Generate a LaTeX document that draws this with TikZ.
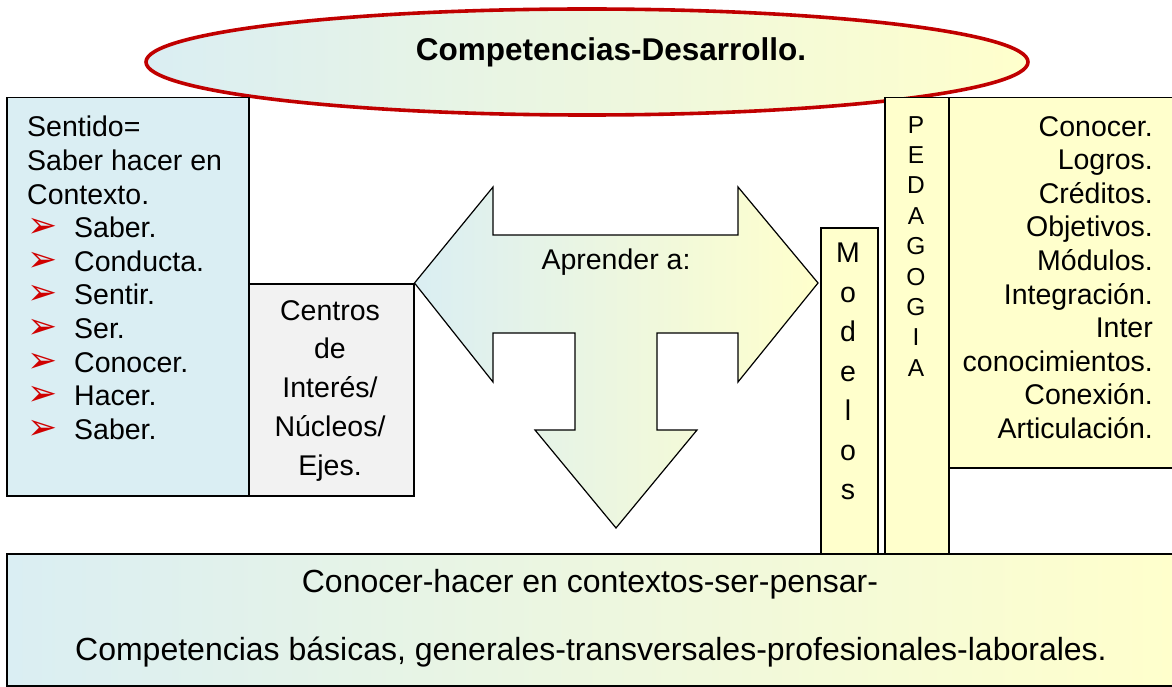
\documentclass[tikz,border=0pt]{standalone}
\usepackage{fontspec}
\setmainfont{Liberation Sans}
\newfontfamily\symfont{DejaVu Sans}
\usepackage{xcolor}
\definecolor{bluesoft}{HTML}{DAEEF3}
\definecolor{yellowsoft}{HTML}{FFFFCC}
\definecolor{greysoft}{HTML}{F2F2F2}
\definecolor{rimred}{HTML}{C00000}
\definecolor{bulletred}{HTML}{D00000}
\usetikzlibrary{shapes.geometric,positioning,calc}
\newcommand{\bul}{\makebox[47pt][l]{\textcolor{bulletred}{\symfont\fontsize{36}{33.6}\selectfont ➢}}}

\begin{document}
\begin{tikzpicture}[x=1pt,y=-1pt,
  box/.style={rectangle,draw=black,line width=1.5pt,anchor=north west,inner sep=0pt},
  grad/.style={left color=bluesoft,right color=yellowsoft},
  txt/.style={inner sep=0pt,text=black,font=\fontsize{28.5}{33.6}\selectfont},
  arrowline/.style={draw=black,line width=1.2pt,line join=miter}]
  \useasboundingbox (0,0) rectangle (1172,687);
  % title
  \node[ellipse,draw=rimred,line width=3.6pt,grad,minimum width=882pt,minimum height=106pt] (titulo) at (587,62) {};
  \node[txt,font=\fontsize{31.5}{36}\selectfont\bfseries] (titulotxt) at (611,52) {Competencias-Desarrollo.};
  % boxes
  \node[box,fill=bluesoft,minimum width=242pt,minimum height=398pt] (sentido) at (6,97) {};
  \node[box,fill=greysoft,minimum width=165pt,minimum height=212pt] (centros) at (248,283) {};
  \node[box,fill=yellowsoft,minimum width=57pt,minimum height=326pt] (modelos) at (820,227) {};
  \node[box,fill=yellowsoft,minimum width=64pt,minimum height=456pt] (pedagogia) at (884,97) {};
  \node[box,fill=yellowsoft,minimum width=230pt,minimum height=370pt] (logros) at (948,97) {};
  \node[box,grad,minimum width=1170pt,minimum height=132pt] (basicas) at (6,553) {};
  % T arrow
  \draw[arrowline,grad] (centros.north east) -- (493,187) -- (493,235) -- (738,235) -- (738,187)
    -- (818,283) -- (738,382) -- (738,333) -- (657,333) -- (657,430) -- (697,430) -- (616,528)
    -- (535,430) -- (575,430) -- (575,333) -- (493,333) -- (493,382) -- cycle;
  \node[txt] (aprender) at (616,262) {Aprender a:};
  % texts
  \node[txt,align=left,anchor=north west] (sentidotxt) at (27,116) {Sentido=\\Saber hacer en\\Contexto.\\
    \bul Saber.\\\bul Conducta.\\\bul Sentir.\\\bul Ser.\\\bul Conocer.\\\bul Hacer.\\\bul Saber.};
  \node[txt,align=center,anchor=north,font=\fontsize{28.5}{38.8}\selectfont] (centrostxt) at (330,300)
    {Centros\\de\\Interés/\\Núcleos/\\Ejes.};
  \node[txt,align=center,anchor=north,font=\fontsize{28.5}{39.5}\selectfont] (modelostxt) at (848,243)
    {M\\o\\d\\e\\l\\o\\s};
  \node[txt,align=center,anchor=north,font=\fontsize{24.5}{30.4}\selectfont] (pedagogiatxt) at (916,116)
    {P\\E\\D\\A\\G\\O\\G\\I\\A};
  \node[txt,align=right,anchor=north east] (logrostxt) at (1153,116) {Conocer.\\Logros.\\Créditos.\\Objetivos.\\
    Módulos.\\Integración.\\Inter\\conocimientos.\\Conexión.\\Articulación.};
  \node[txt,font=\fontsize{32}{36}\selectfont] (basicas1) at (590,584) {Conocer-hacer en contextos-ser-pensar-};
  \node[txt,font=\fontsize{32}{36}\selectfont] (basicas2) at (591,652)
    {Competencias básicas, generales-transversales-profesionales-laborales.};
\end{tikzpicture}
\end{document}
